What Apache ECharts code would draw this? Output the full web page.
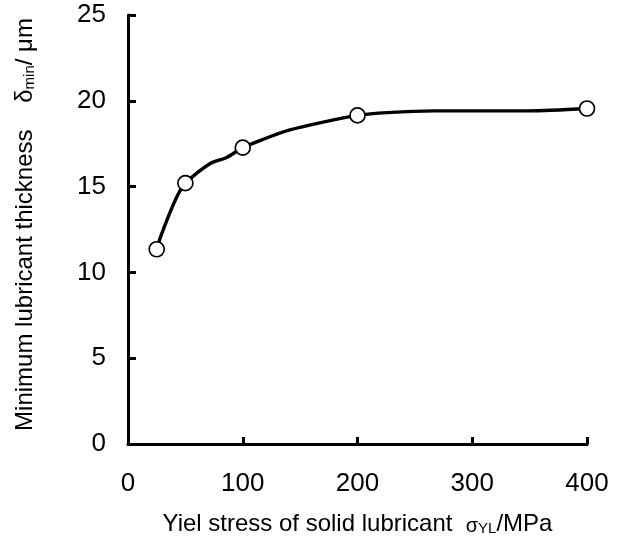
<!DOCTYPE html>
<html>
<head>
<meta charset="utf-8">
<script src="https://cdn.jsdelivr.net/npm/echarts@6/dist/echarts.min.js"></script>
<style>html,body{margin:0;padding:0;background:#fff}#c{width:624px;height:540px}</style>
</head>
<body>
<div id="c"></div>
<script>
// Measured points (yield stress MPa, min thickness µm)
const pointX = [25, 50, 100, 200, 400];
const pointY = [11.35, 15.2, 17.27, 19.15, 19.55];
// Points
const curveX = [25, 28, 36, 44, 50, 71, 86, 100, 118, 141, 168, 200, 226, 267, 348, 400];
const curveY = [11.35, 12.0, 13.4, 14.6, 15.2, 16.32, 16.7, 17.27, 17.76, 18.3, 18.73, 19.15, 19.31, 19.41, 19.41, 19.55];
const xTicks = [0, 100, 200, 300, 400];
const yTicks = [0, 5, 10, 15, 20, 25];

const font = 'Liberation Sans, Arial, sans-serif';
const chart = echarts.init(document.getElementById('c'));
chart.setOption({
  animation: false,
  backgroundColor: '#fff',
  grid: {left: 128, right: 37, top: 15, bottom: 96, containLabel: false, outerBoundsMode: 'none'},
  xAxis: {
    type: 'value', min: xTicks[0], max: xTicks[xTicks.length - 1], interval: 100,
    axisLine: {show: true, lineStyle: {color: '#000', width: 3}},
    axisTick: {show: true, inside: true, length: 7, lineStyle: {color: '#000', width: 3}},
    splitLine: {show: false},
    axisLabel: {color: '#000', fontSize: 26, fontFamily: font, margin: 27},
    name: 'Yiel stress of solid lubricant  {g|σ}{s|YL}{n|/MPa}',
    nameLocation: 'middle', nameGap: 68,
    nameTextStyle: {
      color: '#000', fontSize: 24, fontFamily: font,
      rich: {
        g: {fontSize: 20, fontFamily: font, color: '#000', padding: [4, 0, 0, 0]},
        s: {fontSize: 15, fontFamily: font, color: '#000', padding: [9, 0, 0, 0]},
        n: {fontSize: 24, fontFamily: font, color: '#000'}
      }
    }
  },
  yAxis: {
    type: 'value', min: yTicks[0], max: yTicks[yTicks.length - 1], interval: 5,
    axisLine: {show: true, lineStyle: {color: '#000', width: 3}},
    axisTick: {show: true, inside: true, length: 8, lineStyle: {color: '#000', width: 3}},
    splitLine: {show: false},
    axisLabel: {color: '#000', fontSize: 26, fontFamily: font, margin: 22},
    name: 'Minimum lubricant thickness    {g|δ}{s|min}{n|/ μm}',
    nameLocation: 'middle', nameGap: 91, nameRotate: 90,
    nameTextStyle: {
      color: '#000', fontSize: 24, fontFamily: font, padding: [0, 0, 0, 10],
      rich: {
        g: {fontSize: 24, fontFamily: font, color: '#000'},
        s: {fontSize: 15, fontFamily: font, color: '#000', padding: [9, 0, 0, 0]},
        n: {fontSize: 24, fontFamily: font, color: '#000'}
      }
    }
  },
  series: [
    {
      type: 'line', data: curveX.map((x, i) => [x, curveY[i]]),
      smooth: 0.3, showSymbol: false, silent: true,
      lineStyle: {color: '#000', width: 3.4}, z: 2
    },
    {
      type: 'scatter', data: pointX.map((x, i) => [x, pointY[i]]),
      symbol: 'circle', symbolSize: 15,
      itemStyle: {color: '#fff', borderColor: '#000', borderWidth: 1.7, opacity: 1}, z: 3
    }
  ]
});
</script>
</body>
</html>
